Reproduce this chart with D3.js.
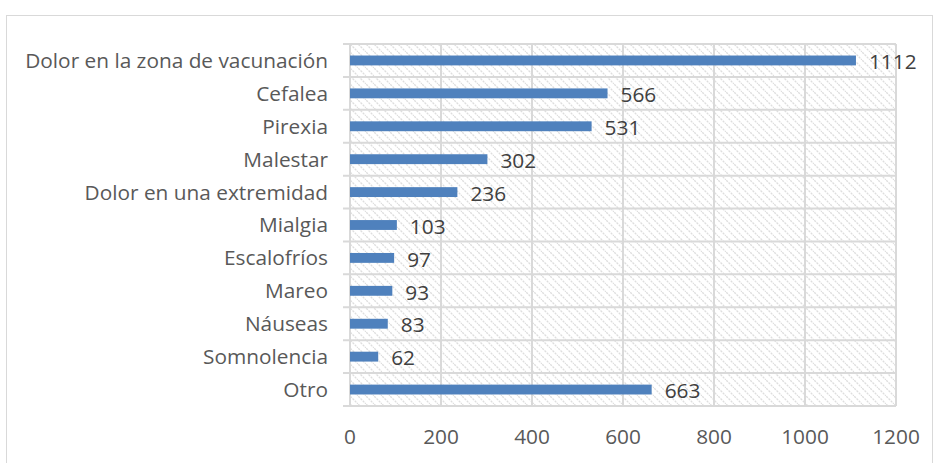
<!DOCTYPE html>
<html>
<head>
<meta charset="utf-8">
<script src="https://cdn.jsdelivr.net/npm/d3@7"></script>
<style>
  body { margin: 0; background: #fff; }
  svg { display: block; }
</style>
</head>
<body>
<svg></svg>
<script>
// chart data
const categories = [
  'Dolor en la zona de vacunación', 'Cefalea', 'Pirexia', 'Malestar',
  'Dolor en una extremidad', 'Mialgia', 'Escalofríos', 'Mareo',
  'Náuseas', 'Somnolencia', 'Otro',
];
const values = [1112, 566, 531, 302, 236, 103, 97, 93, 83, 62, 663];
const xTicks = [0, 200, 400, 600, 800, 1000, 1200];

const width = 938;
const height = 463;
const margin = { top: 44, right: 42, bottom: 57, left: 350 };

const svg = d3.select('svg').attr('width', width).attr('height', height);

// hatch pattern for the plot area (light downward diagonal)
const defs = svg.append('defs');
const pat = defs.append('pattern')
  .attr('id', 'hatch')
  .attr('patternUnits', 'userSpaceOnUse')
  .attr('width', 8)
  .attr('height', 8);
pat.append('rect').attr('width', 8).attr('height', 8).attr('fill', '#fff');
pat.append('path')
  .attr('d', 'M-2,-2 L10,10 M-2,6 L2,10 M6,-2 L10,2')
  .attr('stroke', '#dedede')
  .attr('stroke-width', 1.3)
  .attr('stroke-dasharray', '2.2,1');

// outer chart border
svg.append('rect')
  .attr('x', 6.5).attr('y', 15.5)
  .attr('width', 926).attr('height', 470)
  .attr('fill', 'none')
  .attr('stroke', '#d9d9d9')
  .attr('stroke-width', 1);

const innerW = width - margin.left - margin.right;
const innerH = height - margin.top - margin.bottom;

const x = d3.scaleLinear().domain([0, 1200]).range([0, innerW]);
const y = d3.scaleBand().domain(categories).range([0, innerH]).paddingInner(0.7).paddingOuter(0.35);
const yBand = d3.scaleBand().domain(categories).range([0, innerH]);

const g = svg.append('g').attr('transform', `translate(${margin.left},${margin.top})`);

g.append('rect')
  .attr('width', innerW).attr('height', innerH)
  .attr('fill', 'url(#hatch)');

// vertical gridlines
g.selectAll('.vgrid')
  .data(xTicks)
  .enter()
  .append('line')
  .attr('x1', d => x(d)).attr('x2', d => x(d))
  .attr('y1', 0).attr('y2', innerH)
  .attr('stroke', '#d9d9d9')
  .attr('stroke-width', 2);

// horizontal category boundaries (with tick marks to the left)
const bounds = categories.map(c => yBand(c)).concat([innerH]);
g.selectAll('.hgrid')
  .data(bounds)
  .enter()
  .append('line')
  .attr('x1', -7).attr('x2', innerW)
  .attr('y1', d => d).attr('y2', d => d)
  .attr('stroke', '#d9d9d9')
  .attr('stroke-width', 2);

// bars
g.selectAll('.bar')
  .data(values)
  .enter()
  .append('rect')
  .attr('x', 0)
  .attr('y', (d, i) => y(categories[i]))
  .attr('width', d => x(d))
  .attr('height', y.bandwidth())
  .attr('fill', '#4f81bd');

const font = '"Open Sans", sans-serif';

// fit the font size so the longest label has the reference width
const probe = svg.append('text')
  .attr('font-family', font)
  .attr('font-size', 20)
  .text(categories[0]);
const fs = 20 * 303 / probe.node().getComputedTextLength();
probe.remove();

// value labels
g.selectAll('.val')
  .data(values)
  .enter()
  .append('text')
  .attr('x', d => x(d) + 13)
  .attr('y', (d, i) => y(categories[i]) + y.bandwidth() / 2)
  .attr('dy', '0.42em')
  .attr('font-family', font)
  .attr('font-size', fs)
  .attr('fill', '#404040')
  .text(d => d);

// category labels
g.selectAll('.cat')
  .data(categories)
  .enter()
  .append('text')
  .attr('x', -22)
  .attr('y', d => yBand(d) + yBand.bandwidth() / 2)
  .attr('dy', '0.36em')
  .attr('text-anchor', 'end')
  .attr('font-family', font)
  .attr('font-size', fs)
  .attr('fill', '#595959')
  .text(d => d);

// x tick labels
g.selectAll('.xt')
  .data(xTicks)
  .enter()
  .append('text')
  .attr('x', d => x(d))
  .attr('y', innerH + 31)
  .attr('dy', '0.36em')
  .attr('text-anchor', 'middle')
  .attr('font-family', font)
  .attr('font-size', fs)
  .attr('fill', '#595959')
  .text(d => d);
</script>
</body>
</html>
